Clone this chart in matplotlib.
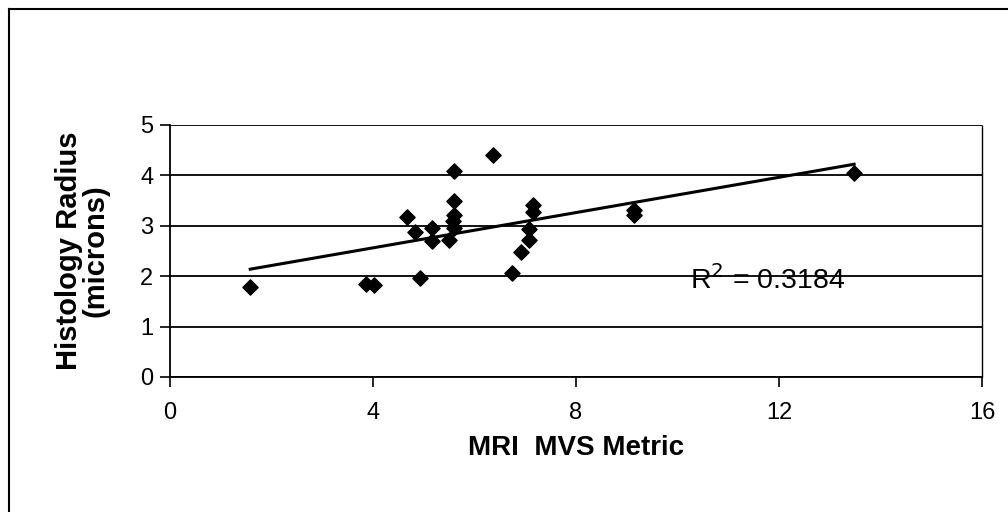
import numpy as np
import matplotlib.pyplot as plt
from matplotlib.lines import Line2D

plt.rcParams['font.family'] = ['Liberation Sans', 'DejaVu Sans']

# MRI MVS metric vs. histology radius (microns)
mvs_metric = [1.58, 3.86, 4.01, 4.93, 4.67, 4.83, 5.16, 5.16, 5.50,
              5.59, 5.59, 5.59, 5.57, 5.59, 6.36, 6.74, 6.92, 7.07,
              7.07, 7.15, 7.15, 9.15, 9.15, 13.48]
histo_radius = [1.79, 1.85, 1.82, 1.97, 3.17, 2.87, 2.96, 2.69, 2.72,
                4.08, 3.50, 3.22, 3.10, 2.96, 4.41, 2.06, 2.47, 2.71,
                2.94, 3.27, 3.42, 3.32, 3.22, 4.05]
r_squared = 0.3184

x_ticks = [0, 4, 8, 12, 16]
y_ticks = [0, 1, 2, 3, 4, 5]

fig = plt.figure(figsize=(10.08, 5.12), dpi=100)
ax = fig.add_axes([0.1687, 0.2637, 0.8055, 0.4922])

ax.scatter(mvs_metric, histo_radius, marker='D', s=60, color='black', zorder=3)

# linear trendline over the data range
slope, intercept = np.polyfit(mvs_metric, histo_radius, 1)
x_fit = np.array([min(mvs_metric), max(mvs_metric)])
ax.plot(x_fit, slope * x_fit + intercept, color='black', linewidth=2.2, zorder=2)

ax.text(10.25, 1.93, r'R$^2$ = %.4f' % r_squared, fontsize=20.5, va='center')

ax.set_xlim(0, 16)
ax.set_ylim(0, 5)
ax.set_xticks(x_ticks)
ax.set_yticks(y_ticks)
ax.tick_params(labelsize=17, direction='out', length=7, width=1.2, pad=5)
ax.tick_params(axis='x', pad=11)
ax.grid(axis='y', color='black', linewidth=1.3)
ax.set_axisbelow(True)
ax.spines['top'].set_visible(False)
ax.spines['right'].set_linewidth(1.0)
ax.spines['right'].set_linestyle((0, (6, 1)))
ax.spines['left'].set_linewidth(1.3)
ax.spines['bottom'].set_linewidth(1.3)

ax.set_xlabel('MRI  MVS Metric', fontsize=20, fontweight='bold', labelpad=8)
ax.set_ylabel('Histology Radius\n(microns)', fontsize=21, fontweight='bold',
              labelpad=22, linespacing=0.95)

# outer chart-area border (top and left edges)
fig.add_artist(Line2D([9 / 1008, 1.0], [1 - 9 / 512, 1 - 9 / 512],
                      color='black', linewidth=1.5, transform=fig.transFigure))
fig.add_artist(Line2D([9 / 1008, 9 / 1008], [0.0, 1 - 9 / 512],
                      color='black', linewidth=1.5, transform=fig.transFigure))

fig.savefig('out.png', dpi=100)
